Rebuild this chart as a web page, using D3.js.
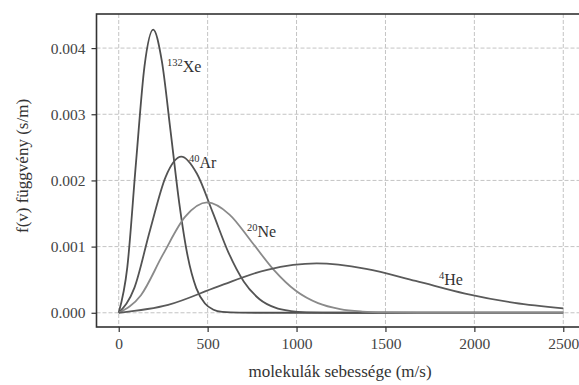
<!DOCTYPE html>
<html>
<head>
<meta charset="utf-8">
<script src="https://cdn.jsdelivr.net/npm/d3@7"></script>
<style>
  body { margin: 0; background: #fff; }
  svg, svg text { font-family: "Liberation Serif", "Times New Roman", "DejaVu Serif", serif !important; }
</style>
</head>
<body>
<div id="chart"></div>
<script>
// speeds (m/s) and f(v) values (s/m), one pair of arrays per gas
const xeSpeed = [0, 48, 97, 145, 194, 242, 291, 340, 388, 436, 485, 533, 582, 679, 800, 2500];
const xeValue = [0, 0.000683, 0.002265, 0.003728, 0.004279, 0.00381, 0.002758, 0.001666, 0.000852, 0.000373, 0.00014, 0.000046, 0.000013, 0.000001, 0, 0];

const arSpeed = [0, 88, 176, 264, 352, 440, 528, 616, 704, 792, 880, 968, 1056, 1232, 1500, 2500];
const arValue = [0, 0.000376, 0.001248, 0.002055, 0.002359, 0.0021, 0.00152, 0.000918, 0.00047, 0.000205, 0.000077, 0.000025, 0.000007, 0, 0, 0];

const neSpeed = [0, 125, 249, 374, 498, 623, 747, 872, 996, 1121, 1245, 1370, 1494, 1743, 2000, 2500];
const neValue = [0, 0.000266, 0.000882, 0.001452, 0.001667, 0.001484, 0.001074, 0.000649, 0.000332, 0.000145, 0.000055, 0.000018, 0.000005, 0, 0, 0];

const heSpeed = [0, 278, 557, 835, 1113, 1391, 1670, 1948, 2226, 2500];
const heValue = [0, 0.000119, 0.000395, 0.00065, 0.000746, 0.000664, 0.000481, 0.00029, 0.000149, 0.000065];

const xTicks = [0, 500, 1000, 1500, 2000, 2500];
const yTicks = [0, 0.001, 0.002, 0.003, 0.004];

const gases = [
  { sup: "132", name: "Xe", speed: xeSpeed, value: xeValue, color: "#4f4f4f", lx: 167, ly: 72 },
  { sup: "40", name: "Ar", speed: arSpeed, value: arValue, color: "#545454", lx: 189, ly: 168 },
  { sup: "20", name: "Ne", speed: neSpeed, value: neValue, color: "#8a8a8a", lx: 247, ly: 237 },
  { sup: "4", name: "He", speed: heSpeed, value: heValue, color: "#5a5a5a", lx: 439, ly: 285 }
];

const width = 579, height = 385;
const plotL = 96.5, plotR = 585.5, plotT = 14, plotB = 327;

const svg = d3.select("#chart").append("svg")
  .attr("width", width)
  .attr("height", height);

svg.append("rect").attr("width", width).attr("height", height).attr("fill", "#fff");

const x = d3.scaleLinear().domain([-125, 2625]).range([plotL, plotR]);
const y = d3.scaleLinear().domain([-0.000215, 0.004515]).range([plotB, plotT]);

// grid
svg.append("g")
  .selectAll("line")
  .data(xTicks)
  .join("line")
  .attr("x1", d => x(d)).attr("x2", d => x(d))
  .attr("y1", plotT).attr("y2", plotB)
  .attr("stroke", "#c4c4c4")
  .attr("stroke-width", 1)
  .attr("stroke-dasharray", "4,2");

svg.append("g")
  .selectAll("line")
  .data(yTicks)
  .join("line")
  .attr("x1", plotL).attr("x2", plotR)
  .attr("y1", d => y(d)).attr("y2", d => y(d))
  .attr("stroke", "#c4c4c4")
  .attr("stroke-width", 1)
  .attr("stroke-dasharray", "4,2");

// curves
const line = d3.line()
  .x(d => x(d[0]))
  .y(d => y(d[1]))
  .curve(d3.curveMonotoneX);

svg.append("g")
  .selectAll("path")
  .data(gases)
  .join("path")
  .attr("d", g => line(g.speed.map((s, i) => [s, g.value[i]])))
  .attr("fill", "none")
  .attr("stroke", g => g.color)
  .attr("stroke-width", 1.8);

// curve labels
const labels = svg.append("g")
  .selectAll("text")
  .data(gases)
  .join("text")
  .attr("x", g => g.lx)
  .attr("y", g => g.ly)
  .attr("fill", "#333")
  .attr("font-size", 16);
labels.append("tspan")
  .attr("font-size", 10.5)
  .attr("dy", -6.5)
  .text(g => g.sup);
labels.append("tspan")
  .attr("dy", 6.5)
  .text(g => g.name);

// axes
const xAxis = svg.append("g")
  .attr("transform", `translate(0,${plotB})`)
  .call(d3.axisBottom(x).tickValues(xTicks).tickSize(5).tickPadding(6).tickFormat(d3.format("d")));
const yAxis = svg.append("g")
  .attr("transform", `translate(${plotL},0)`)
  .call(d3.axisLeft(y).tickValues(yTicks).tickSize(5).tickPadding(6).tickFormat(d3.format(".3f")));

[xAxis, yAxis].forEach(a => {
  a.select(".domain").remove();
  a.selectAll(".tick line").attr("stroke", "#333").attr("stroke-width", 1.2);
  a.selectAll(".tick text")
    .attr("fill", "#444")
    .attr("font-size", 15.5);
});

// frame
svg.append("rect")
  .attr("x", plotL).attr("y", plotT)
  .attr("width", plotR - plotL).attr("height", plotB - plotT)
  .attr("fill", "none")
  .attr("stroke", "#333")
  .attr("stroke-width", 1.6);

// axis titles
svg.append("text")
  .attr("x", 340).attr("y", 377)
  .attr("text-anchor", "middle")
  .attr("font-size", 17)
  .attr("fill", "#333")
  .text("molekulák sebessége (m/s)");

svg.append("text")
  .attr("transform", "translate(28,166) rotate(-90)")
  .attr("text-anchor", "middle")
  .attr("font-size", 17)
  .attr("fill", "#333")
  .text("f(v) függvény (s/m)");
</script>
</body>
</html>
